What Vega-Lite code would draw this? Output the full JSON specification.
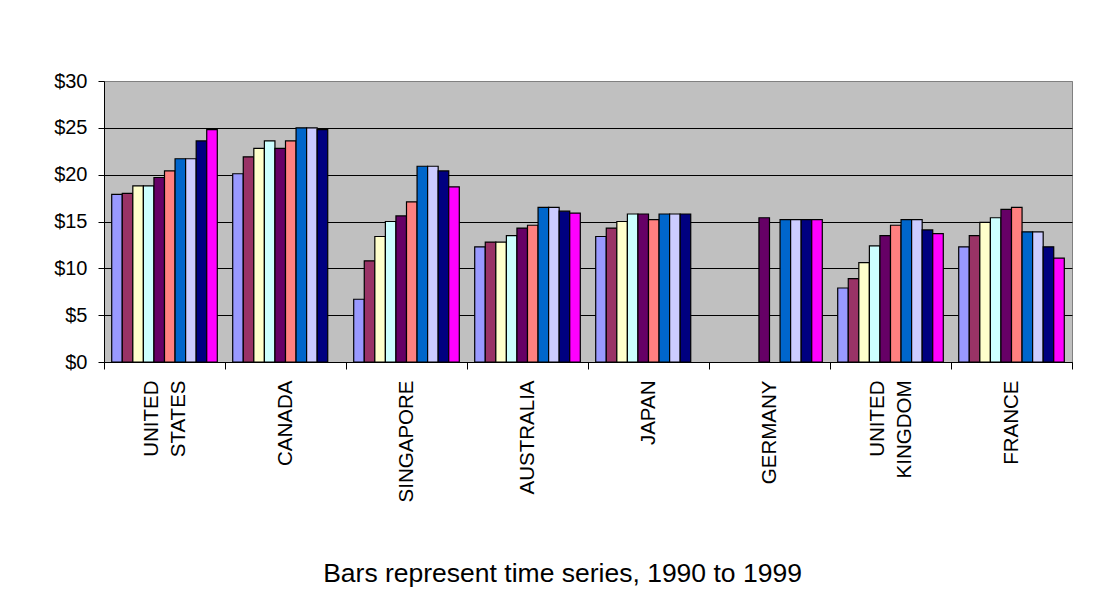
{
  "$schema": "https://vega.github.io/schema/vega-lite/v6.json",
  "width": 968,
  "height": 281,
  "autosize": {"type": "none"},
  "padding": {"left": 104, "top": 81, "right": 26, "bottom": 243},
  "background": "white",
  "config": {
    "font": "Liberation Sans",
    "view": {"fill": "#C0C0C0", "stroke": "#808080", "strokeWidth": 1}
  },
  "data": {
    "values": [
      {"country": "UNITED STATES", "year": 1990, "value": 17.9},
      {"country": "UNITED STATES", "year": 1991, "value": 18.0},
      {"country": "UNITED STATES", "year": 1992, "value": 18.8},
      {"country": "UNITED STATES", "year": 1993, "value": 18.8},
      {"country": "UNITED STATES", "year": 1994, "value": 19.7},
      {"country": "UNITED STATES", "year": 1995, "value": 20.4},
      {"country": "UNITED STATES", "year": 1996, "value": 21.7},
      {"country": "UNITED STATES", "year": 1997, "value": 21.7},
      {"country": "UNITED STATES", "year": 1998, "value": 23.6},
      {"country": "UNITED STATES", "year": 1999, "value": 24.8},
      {"country": "CANADA", "year": 1990, "value": 20.1},
      {"country": "CANADA", "year": 1991, "value": 21.9},
      {"country": "CANADA", "year": 1992, "value": 22.8},
      {"country": "CANADA", "year": 1993, "value": 23.6},
      {"country": "CANADA", "year": 1994, "value": 22.8},
      {"country": "CANADA", "year": 1995, "value": 23.6},
      {"country": "CANADA", "year": 1996, "value": 25.0},
      {"country": "CANADA", "year": 1997, "value": 25.0},
      {"country": "CANADA", "year": 1998, "value": 24.8},
      {"country": "SINGAPORE", "year": 1990, "value": 6.7},
      {"country": "SINGAPORE", "year": 1991, "value": 10.8},
      {"country": "SINGAPORE", "year": 1992, "value": 13.4},
      {"country": "SINGAPORE", "year": 1993, "value": 15.0},
      {"country": "SINGAPORE", "year": 1994, "value": 15.6},
      {"country": "SINGAPORE", "year": 1995, "value": 17.1},
      {"country": "SINGAPORE", "year": 1996, "value": 20.9},
      {"country": "SINGAPORE", "year": 1997, "value": 20.9},
      {"country": "SINGAPORE", "year": 1998, "value": 20.4},
      {"country": "SINGAPORE", "year": 1999, "value": 18.7},
      {"country": "AUSTRALIA", "year": 1990, "value": 12.3},
      {"country": "AUSTRALIA", "year": 1991, "value": 12.8},
      {"country": "AUSTRALIA", "year": 1992, "value": 12.8},
      {"country": "AUSTRALIA", "year": 1993, "value": 13.5},
      {"country": "AUSTRALIA", "year": 1994, "value": 14.3},
      {"country": "AUSTRALIA", "year": 1995, "value": 14.6},
      {"country": "AUSTRALIA", "year": 1996, "value": 16.5},
      {"country": "AUSTRALIA", "year": 1997, "value": 16.5},
      {"country": "AUSTRALIA", "year": 1998, "value": 16.1},
      {"country": "AUSTRALIA", "year": 1999, "value": 15.9},
      {"country": "JAPAN", "year": 1990, "value": 13.4},
      {"country": "JAPAN", "year": 1991, "value": 14.3},
      {"country": "JAPAN", "year": 1992, "value": 15.0},
      {"country": "JAPAN", "year": 1993, "value": 15.8},
      {"country": "JAPAN", "year": 1994, "value": 15.8},
      {"country": "JAPAN", "year": 1995, "value": 15.2},
      {"country": "JAPAN", "year": 1996, "value": 15.8},
      {"country": "JAPAN", "year": 1997, "value": 15.8},
      {"country": "JAPAN", "year": 1998, "value": 15.8},
      {"country": "GERMANY", "year": 1994, "value": 15.4},
      {"country": "GERMANY", "year": 1996, "value": 15.2},
      {"country": "GERMANY", "year": 1997, "value": 15.2},
      {"country": "GERMANY", "year": 1998, "value": 15.2},
      {"country": "GERMANY", "year": 1999, "value": 15.2},
      {"country": "UNITED KINGDOM", "year": 1990, "value": 7.9},
      {"country": "UNITED KINGDOM", "year": 1991, "value": 8.9},
      {"country": "UNITED KINGDOM", "year": 1992, "value": 10.6},
      {"country": "UNITED KINGDOM", "year": 1993, "value": 12.4},
      {"country": "UNITED KINGDOM", "year": 1994, "value": 13.5},
      {"country": "UNITED KINGDOM", "year": 1995, "value": 14.6},
      {"country": "UNITED KINGDOM", "year": 1996, "value": 15.2},
      {"country": "UNITED KINGDOM", "year": 1997, "value": 15.2},
      {"country": "UNITED KINGDOM", "year": 1998, "value": 14.1},
      {"country": "UNITED KINGDOM", "year": 1999, "value": 13.7},
      {"country": "FRANCE", "year": 1990, "value": 12.3},
      {"country": "FRANCE", "year": 1991, "value": 13.5},
      {"country": "FRANCE", "year": 1992, "value": 14.9},
      {"country": "FRANCE", "year": 1993, "value": 15.4},
      {"country": "FRANCE", "year": 1994, "value": 16.3},
      {"country": "FRANCE", "year": 1995, "value": 16.5},
      {"country": "FRANCE", "year": 1996, "value": 13.9},
      {"country": "FRANCE", "year": 1997, "value": 13.9},
      {"country": "FRANCE", "year": 1998, "value": 12.3},
      {"country": "FRANCE", "year": 1999, "value": 11.1}
    ]
  },
  "mark": {"type": "bar", "stroke": "black", "strokeWidth": 1.2},
  "encoding": {
    "x": {
      "field": "country",
      "type": "nominal",
      "sort": ["UNITED STATES", "CANADA", "SINGAPORE", "AUSTRALIA", "JAPAN", "GERMANY", "UNITED KINGDOM", "FRANCE"],
      "scale": {"paddingInner": 0, "paddingOuter": 0},
      "axis": {
        "title": "Bars represent time series, 1990 to 1999",
        "titleFontSize": 26.5,
        "titleFontWeight": "normal",
        "titleColor": "black",
        "titleX": 458,
        "titleY": 219,
        "titleAlign": "center",
        "titleBaseline": "alphabetic",
        "domainColor": "black",
        "domainWidth": 1,
        "tickBand": "extent",
        "tickColor": "black",
        "tickSize": 7,
        "labelAngle": -90,
        "labelAlign": "right",
        "labelBaseline": "middle",
        "labelPadding": 11,
        "labelFontSize": 20.5,
        "labelColor": "black",
        "labelLineHeight": 27,
        "labelOffset": {"condition": {"test": "indexof(datum.label, ' ') >= 0", "value": -13.5}, "value": 0},
        "labelExpr": "split(datum.label, ' ')"
      }
    },
    "xOffset": {
      "field": "year",
      "type": "nominal",
      "scale": {
        "domain": [1990, 1991, 1992, 1993, 1994, 1995, 1996, 1997, 1998, 1999],
        "paddingInner": 0,
        "paddingOuter": 0.73
      }
    },
    "y": {
      "field": "value",
      "type": "quantitative",
      "scale": {"domain": [0, 30], "nice": false},
      "axis": {
        "title": null,
        "values": [0, 5, 10, 15, 20, 25, 30],
        "labelExpr": "'$' + datum.value",
        "labelFontSize": 20,
        "labelColor": "black",
        "labelPadding": 11,
        "tickSize": 6,
        "tickColor": "black",
        "domainColor": "black",
        "domainWidth": 1,
        "grid": true,
        "gridColor": {"condition": {"test": "datum.value === 30", "value": "#808080"}, "value": "black"},
        "gridWidth": 1
      }
    },
    "color": {
      "field": "year",
      "type": "nominal",
      "scale": {
        "domain": [1990, 1991, 1992, 1993, 1994, 1995, 1996, 1997, 1998, 1999],
        "range": ["#9999FF", "#993366", "#FFFFCC", "#CCFFFF", "#660066", "#FF8080", "#0066CC", "#CCCCFF", "#000080", "#FF00FF"]
      },
      "legend": null
    }
  }
}
